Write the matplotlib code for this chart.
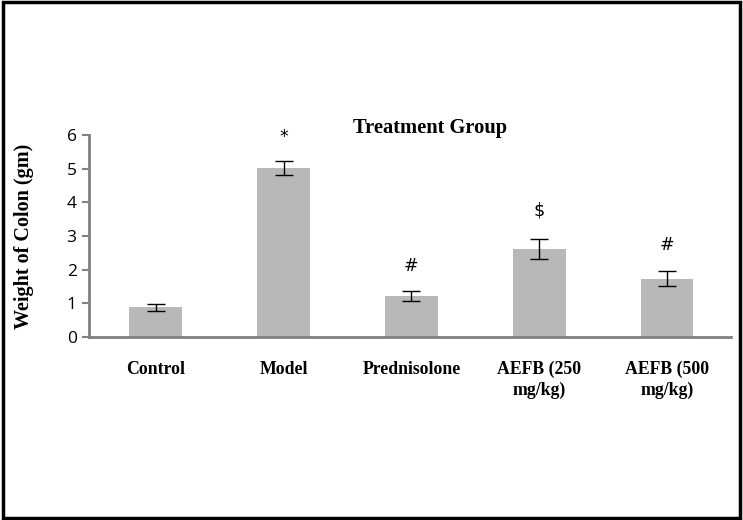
import matplotlib.pyplot as plt
from matplotlib.patches import Rectangle

groups = ["Control", "Model", "Prednisolone", "AEFB (250\nmg/kg)", "AEFB (500\nmg/kg)"]
weights = [0.88, 5.02, 1.22, 2.62, 1.73]
errors = [0.10, 0.21, 0.14, 0.29, 0.22]
marks = ["", "*", "#", "$", "#"]
mark_y = [None, 5.95, 2.1, 3.76, 2.74]

serif = ["Liberation Serif", "DejaVu Serif"]

fig = plt.figure(figsize=(7.43, 5.2), dpi=100)
ax = fig.add_axes([0.12, 0.352, 0.864, 0.388])

x = range(len(groups))
ax.bar(x, weights, width=0.41, color="#b8b8b8", zorder=2)
ax.errorbar(x, weights, yerr=errors, fmt="none", ecolor="black",
            elinewidth=1, capsize=6.5, capthick=1, zorder=3)

for i, (m, y) in enumerate(zip(marks, mark_y)):
    if m:
        ax.text(i, y, m, ha="center", va="center", fontsize=12.5,
                family="DejaVu Sans")

ax.set_xlim(-0.52, 4.5)
ax.set_ylim(0, 6)
ax.set_yticks(range(7))
ax.set_xticks(list(x))
ax.set_xticklabels(groups, family=serif, fontweight="bold", fontsize=12.8,
                   linespacing=1.3, va="top")
ax.tick_params(axis="x", length=0, pad=17)
ax.tick_params(axis="y", length=5, width=1.5, color="#808080", labelsize=12.5, pad=4)
for lab in ax.get_yticklabels():
    lab.set_family("Open Sans")

for s in ["top", "right"]:
    ax.spines[s].set_visible(False)
for s in ["left", "bottom"]:
    ax.spines[s].set_color("#808080")
    ax.spines[s].set_linewidth(2)

ax.set_ylabel("Weight of Colon (gm)", family=serif, fontweight="bold", fontsize=14.5)
ax.yaxis.set_label_coords(-0.086, 0.5)

fig.text(0.579, 0.753, "Treatment Group", family=serif, fontweight="bold",
         fontsize=14.8, ha="center", va="center")

fig.patches.append(Rectangle((0.004, 0.004), 0.992, 0.992, transform=fig.transFigure,
                             fill=False, edgecolor="black", linewidth=2.5))

fig.savefig("out.png", dpi=100)
